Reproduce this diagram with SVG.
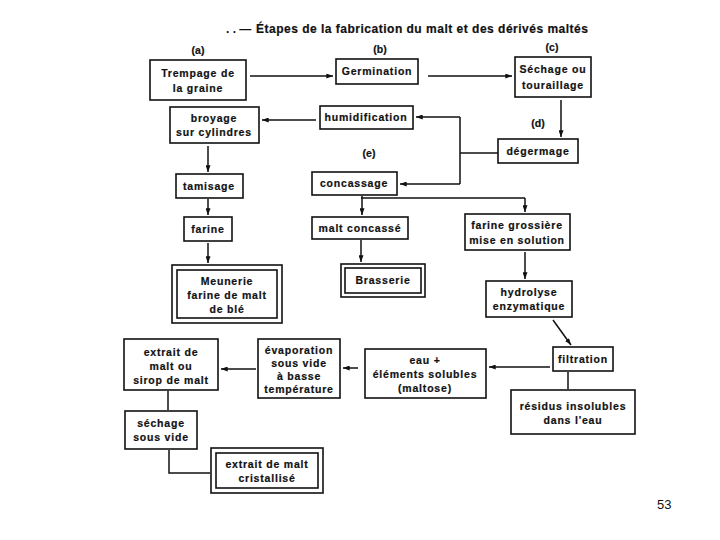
<svg xmlns="http://www.w3.org/2000/svg" width="720" height="540" viewBox="0 0 720 540">
<style>
.bx{fill:#fff;stroke:#111;stroke-width:1.6}
.t{font-family:"Liberation Sans",Arial,sans-serif;font-weight:bold;font-size:10.5px;fill:#111;text-anchor:middle;letter-spacing:0.8px;stroke:#111;stroke-width:0.2px}
.lb{font-family:"Liberation Sans",Arial,sans-serif;font-weight:bold;font-size:10.5px;fill:#111;text-anchor:middle;stroke:#111;stroke-width:0.2px}
.c{fill:none;stroke:#111;stroke-width:1.5}
</style>
<defs>
<marker id="ah" viewBox="0 0 8 6" refX="8" refY="3" markerWidth="7" markerHeight="5" orient="auto" markerUnits="userSpaceOnUse">
<path d="M0,0 L8,3 L0,6 Z" fill="#111"/>
</marker>
</defs>
<rect width="720" height="540" fill="#fff"/>
<g id="title">
<text x="226" y="33" font-family="Liberation Sans,Arial,sans-serif" font-size="12" font-weight="bold" fill="#111">. . —</text>
<text x="256" y="33" font-family="Liberation Sans,Arial,sans-serif" font-size="12" font-weight="bold" fill="#111" stroke="#111" stroke-width="0.2" letter-spacing="0.5">Étapes de la fabrication du malt et des dérivés maltés</text>
</g>
<g id="labels">
<text class="lb" x="198" y="54">(a)</text>
<text class="lb" x="380" y="53">(b)</text>
<text class="lb" x="552" y="51">(c)</text>
<text class="lb" x="538" y="127">(d)</text>
<text class="lb" x="369" y="157">(e)</text>
</g>
<g id="connectors">
<path class="c" d="M250 76 H333" marker-end="url(#ah)"/>
<path class="c" d="M428 76 H512" marker-end="url(#ah)"/>
<path class="c" d="M561 100 V137" marker-end="url(#ah)"/>
<path class="c" d="M498 153 H460 M460 117 V184"/>
<path class="c" d="M460 117 H416" marker-end="url(#ah)"/>
<path class="c" d="M460 184 H400" marker-end="url(#ah)"/>
<path class="c" d="M316 120 H262" marker-end="url(#ah)"/>
<path class="c" d="M208 146 V172" marker-end="url(#ah)"/>
<path class="c" d="M208 199 V215" marker-end="url(#ah)"/>
<path class="c" d="M208 243 V263" marker-end="url(#ah)"/>
<path class="c" d="M362 196 V198 M361 198 H525"/>
<path class="c" d="M362 198 V215" marker-end="url(#ah)"/>
<path class="c" d="M525 198 V212" marker-end="url(#ah)"/>
<path class="c" d="M361 240 V262" marker-end="url(#ah)"/>
<path class="c" d="M525 252 V279" marker-end="url(#ah)"/>
<path class="c" d="M553 320 L571 345" marker-end="url(#ah)"/>
<path class="c" d="M550 367 H489" marker-end="url(#ah)"/>
<path class="c" d="M358 368 H343" marker-end="url(#ah)"/>
<path class="c" d="M256 369 H221" marker-end="url(#ah)"/>
<path class="c" d="M168 391 V410"/>
<path class="c" d="M169 450 V473 H210"/>
<path class="c" d="M568 372 V389"/>
</g>
<g id="trempage"><rect class="bx" x="150" y="60" width="96" height="40"/><text class="t" x="198" y="77">Trempage de</text><text class="t" x="198" y="92">la graine</text></g>
<g id="germination"><rect class="bx" x="336" y="59" width="82" height="25"/><text class="t" x="377" y="75">Germination</text></g>
<g id="sechage"><rect class="bx" x="515" y="57" width="76" height="40"/><text class="t" x="553" y="73" letter-spacing="0.5">Séchage ou</text><text class="t" x="553" y="89" letter-spacing="0.5">touraillage</text></g>
<g id="broyage"><rect class="bx" x="170" y="107" width="89" height="36"/><text class="t" x="214" y="122">broyage</text><text class="t" x="214" y="136">sur cylindres</text></g>
<g id="humidification"><rect class="bx" x="320" y="106" width="93" height="23"/><text class="t" x="366" y="121">humidification</text></g>
<g id="degermage"><rect class="bx" x="498" y="139" width="80" height="24"/><text class="t" x="538" y="155">dégermage</text></g>
<g id="tamisage"><rect class="bx" x="176" y="174" width="67" height="24"/><text class="t" x="209" y="190">tamisage</text></g>
<g id="concassage"><rect class="bx" x="312" y="172" width="85" height="23"/><text class="t" x="354" y="187">concassage</text></g>
<g id="farine"><rect class="bx" x="184" y="217" width="48" height="24"/><text class="t" x="208" y="233">farine</text></g>
<g id="malt-concasse"><rect class="bx" x="312" y="217" width="96" height="22"/><text class="t" x="360" y="232">malt concassé</text></g>
<g id="farine-grossiere"><rect class="bx" x="465" y="214" width="105" height="36"/><text class="t" x="517" y="229">farine grossière</text><text class="t" x="517" y="244">mise en solution</text></g>
<g id="meunerie"><rect class="bx" x="172" y="265" width="110" height="58"/><rect class="bx" x="177" y="270" width="100" height="48"/><text class="t" x="227" y="285">Meunerie</text><text class="t" x="227" y="299">farine de malt</text><text class="t" x="227" y="313">de blé</text></g>
<g id="brasserie"><rect class="bx" x="341" y="264" width="84" height="33"/><rect class="bx" x="345" y="268" width="76" height="25"/><text class="t" x="383" y="284">Brasserie</text></g>
<g id="hydrolyse"><rect class="bx" x="486" y="281" width="86" height="36"/><text class="t" x="529" y="296">hydrolyse</text><text class="t" x="529" y="310">enzymatique</text></g>
<g id="filtration"><rect class="bx" x="553" y="347" width="60" height="24"/><text class="t" x="583" y="363" letter-spacing="0.5">filtration</text></g>
<g id="eau"><rect class="bx" x="365" y="349" width="121" height="49"/><text class="t" x="425" y="364">eau +</text><text class="t" x="425" y="378">éléments solubles</text><text class="t" x="425" y="392">(maltose)</text></g>
<g id="evaporation"><rect class="bx" x="258" y="339" width="82" height="59"/><text class="t" x="299" y="354">évaporation</text><text class="t" x="299" y="367">sous vide</text><text class="t" x="299" y="380">à basse</text><text class="t" x="299" y="393" letter-spacing="0.5">température</text></g>
<g id="extrait"><rect class="bx" x="124" y="339" width="94" height="51"/><text class="t" x="171" y="356">extrait de</text><text class="t" x="171" y="370">malt ou</text><text class="t" x="171" y="384">sirop de malt</text></g>
<g id="residus"><rect class="bx" x="511" y="390" width="124" height="44"/><text class="t" x="573" y="410">résidus insolubles</text><text class="t" x="573" y="424">dans l'eau</text></g>
<g id="sechage-sous-vide"><rect class="bx" x="125" y="411" width="72" height="38"/><text class="t" x="161" y="427">séchage</text><text class="t" x="161" y="441">sous vide</text></g>
<g id="cristallise"><rect class="bx" x="211" y="448" width="112" height="45"/><rect class="bx" x="216" y="453" width="102" height="35"/><text class="t" x="267" y="468">extrait de malt</text><text class="t" x="267" y="482">cristallisé</text></g>
<text x="657" y="509" font-family="Liberation Sans,Arial,sans-serif" font-size="13" fill="#111">53</text>
</svg>
